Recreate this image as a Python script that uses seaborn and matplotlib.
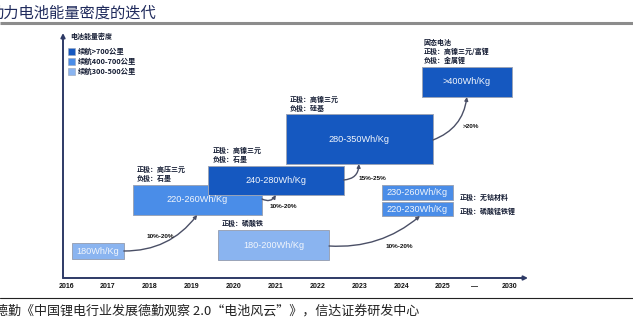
import matplotlib
matplotlib.use("Agg")
import matplotlib.pyplot as plt
from matplotlib.patches import Rectangle, FancyArrowPatch
import seaborn as sns

# ---------------- data ----------------
tick_labels = ["2016", "2017", "2018", "2019", "2020", "2021", "2022",
               "2023", "2024", "2025", "—", "2030"]
tick_pos = [0, 1, 2, 3, 4, 5, 6, 7, 8, 9, 9.76, 10.6]

box_labels = ["180Wh/Kg", "220-260Wh/Kg", "240-280Wh/Kg", "280-350Wh/Kg",
              "180-200Wh/Kg", "230-260Wh/Kg", "220-230Wh/Kg", ">400Wh/Kg"]
box_start = [0.14, 1.60, 3.39, 5.25, 3.63, 7.54, 7.54, 8.50]
box_end = [1.38, 4.68, 6.63, 8.76, 6.28, 9.24, 9.24, 10.64]
box_low = [1.9, 6.3, 8.3, 11.4, 1.8, 7.8, 6.2, 18.1]
box_high = [3.5, 9.3, 11.2, 16.4, 4.8, 9.3, 7.6, 21.1]
box_tier = [2, 1, 0, 0, 2, 1, 1, 0]   # 0: >700km, 1: 400-700km, 2: 300-500km

material_text = ["正极：高压三元\n负极：石墨", "正极：高镍三元\n负极：石墨",
                 "正极：高镍三元\n负极：硅基", "正极：磷酸铁",
                 "固态电池\n正极：高镍三元/富锂\n负极：金属锂",
                 "正极：无钴材料", "正极：磷酸锰铁锂"]
material_x = [1.69, 3.510, 5.35, 3.72, 8.545, 9.40, 9.40]
material_y = [11.2, 13.1, 18.2, 5.8, 23.9, 8.4, 7.0]

growth_labels = ["10%-20%", "10%-20%", "15%-25%", "10%-20%", ">20%"]
arrow_from = [(1.38, 2.7), (4.68, 7.9), (6.63, 9.8), (6.28, 3.2), (8.76, 13.8)]
arrow_to = [(3.13, 6.3), (5.01, 8.3), (6.99, 11.4), (8.45, 6.2), (9.57, 18.1)]
arrow_rad = [0.25, 0.45, 0.45, 0.2, 0.3]
growth_x = [1.93, 4.87, 6.99, 7.64, 9.48]
growth_y = [4.2, 7.2, 10.0, 3.2, 15.1]

legend_labels = ["续航>700公里", "续航400-700公里", "续航300-500公里"]
tier_colors = ["#1558C0", "#4A8DE8", "#8AB4F0"]

# ---------------- style ----------------
sns.set_theme(style="white")
plt.rcParams["font.family"] = ["Noto Sans CJK SC", "DejaVu Sans"]
CJK = ["Noto Sans CJK SC", "DejaVu Sans"]
NUM = ["Liberation Sans", "Noto Sans CJK SC", "DejaVu Sans"]
navy = "#2E3A66"

W, H = 633, 332
fig = plt.figure(figsize=(W / 100, H / 100), dpi=100)

# overlay for page furniture (pixel coordinates)
ov = fig.add_axes([0, 0, 1, 1])
ov.set_xlim(0, W)
ov.set_ylim(H, 0)
ov.axis("off")

# main diagram axes
ax = fig.add_axes([63 / W, (H - 278) / H, (528 - 63) / W, (278 - 30) / H])
ax.set_xlim(-0.072, 11.03)
ax.set_ylim(0, 24.8)
ax.axis("off")
sns.despine(ax=ax, left=True, bottom=True)

# axes arrows
ax.annotate("", xy=(11.03, 0), xytext=(-0.072, 0),
            arrowprops=dict(arrowstyle="-|>", color=navy, lw=1.4,
                            mutation_scale=6, shrinkA=0, shrinkB=0),
            annotation_clip=False)
ax.annotate("", xy=(-0.072, 24.5), xytext=(-0.072, 0),
            arrowprops=dict(arrowstyle="-|>", color=navy, lw=1.4,
                            mutation_scale=6, shrinkA=0, shrinkB=0),
            annotation_clip=False)

for p, t in zip(tick_pos, tick_labels):
    ax.text(p, -0.9, t, ha="center", va="center", fontsize=5,
            fontweight="bold", color="#111111", family=NUM, clip_on=False)

# boxes
order = [0, 1, 4, 2, 3, 5, 6, 7]
for i in order:
    x0, x1, y0, y1 = box_start[i], box_end[i], box_low[i], box_high[i]
    ax.add_patch(Rectangle((x0, y0), x1 - x0, y1 - y0,
                           facecolor=tier_colors[box_tier[i]],
                           edgecolor="#9AA4B8", lw=0.7, zorder=2 + order.index(i)))
    ax.text((x0 + x1) / 2, (y0 + y1) / 2, box_labels[i], ha="center",
            va="center", color="#F2F6FC", fontsize=6.6, family=NUM,
            zorder=20 + order.index(i))

# material annotations
for t, x, y in zip(material_text, material_x, material_y):
    ax.text(x, y, t, ha="left", va="top", fontsize=5, fontweight="bold",
            color="#141c33", family=CJK, linespacing=1.25, zorder=40)

# growth arrows
for s, e, r in zip(arrow_from, arrow_to, arrow_rad):
    ax.add_patch(FancyArrowPatch(s, e, connectionstyle=f"arc3,rad={r}",
                                 arrowstyle="-|>", mutation_scale=5,
                                 color="#4A4F66", lw=1.0, shrinkA=0,
                                 shrinkB=0, zorder=30))
for t, x, y in zip(growth_labels, growth_x, growth_y):
    ax.text(x, y, t, ha="left", va="center", fontsize=4.6,
            fontweight="bold", color="#111111", family=NUM, zorder=40)

# legend
ov.text(70, 36, "电池能量密度", ha="left", va="center", fontsize=5,
        fontweight="bold", color="#141c33", family=CJK)
for k, (lab, c) in enumerate(zip(legend_labels, tier_colors)):
    yc = 51.5 + 10 * k
    ov.add_patch(Rectangle((68, yc - 3.5), 7, 7, facecolor=c,
                           edgecolor="#9AA4B8", lw=0.4))
    ov.text(78, yc, lab, ha="left", va="center", fontsize=5.3,
            fontweight="bold", color="#141c33", family=CJK)

# title and source
ov.text(-12, 13, "动力电池能量密度的迭代", ha="left", va="center",
        fontsize=11, color="#1F2A5C", family=CJK)
ov.plot([0, W], [23, 23], color="#8C8C8C", lw=2.2, solid_capstyle="butt")
ov.plot([0, W], [298, 298], color="#222222", lw=0.8)
ov.text(-5, 311, "德勤《中国锂电行业发展德勤观察 2.0“电池风云”》，信达证券研发中心",
        ha="left", va="center", fontsize=9.4, style="italic",
        color="#222222", family=CJK)

fig.savefig("out.png", dpi=100)
